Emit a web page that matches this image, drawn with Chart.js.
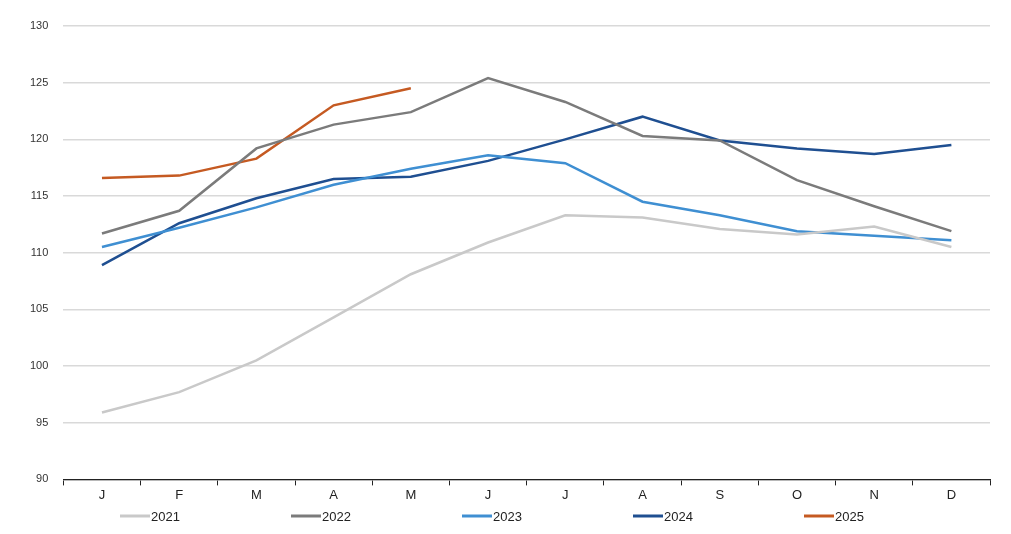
<!DOCTYPE html>
<html><head><meta charset="utf-8">
<script src="https://cdn.jsdelivr.net/npm/chart.js@4"></script>
<style>html,body{margin:0;padding:0;background:#fff}#wrap{width:1011px;height:534px}</style>
</head><body><div id="wrap"><canvas id="c"></canvas></div>
<script>
const months = ["J","F","M","A","M","J","J","A","S","O","N","D"];
const s2021 = [95.9, 97.7, 100.5, 104.3, 108.1, 110.9, 113.3, 113.1, 112.1, 111.6, 112.3, 110.5];
const s2022 = [111.7, 113.7, 119.2, 121.3, 122.4, 125.4, 123.3, 120.3, 119.9, 116.4, 114.1, 111.9];
const s2023 = [110.5, 112.2, 114.0, 116.0, 117.4, 118.6, 117.9, 114.5, 113.3, 111.9, 111.5, 111.1];
const s2024 = [108.9, 112.6, 114.8, 116.5, 116.7, 118.1, 120.0, 122.0, 119.9, 119.2, 118.7, 119.5];
const s2025 = [116.6, 116.8, 118.3, 123.0, 124.5];
const yTicks = [90, 95, 100, 105, 110, 115, 120, 125, 130];

const mk = (label, data, color) => ({label, data, borderColor: color, backgroundColor: color,
  borderWidth: 2.5, pointRadius: 0, tension: 0, fill: false});

const FONT = 'Liberation Sans, Arial';

// Legend drawn with wide spacing (one row), like the reference
const wideLegend = {
  id: 'wideLegend',
  afterDraw(chart) {
    const ctx = chart.ctx;
    const ds = chart.data.datasets;
    const step = 171, lineW = 30, startX = 120, y = chart.height - 18;
    ctx.save();
    ctx.font = '13px ' + FONT;
    ctx.textBaseline = 'middle';
    ctx.textAlign = 'left';
    ds.forEach((d, i) => {
      const x = startX + i * step;
      ctx.strokeStyle = d.borderColor;
      ctx.lineWidth = 3;
      ctx.beginPath(); ctx.moveTo(x, y); ctx.lineTo(x + lineW, y); ctx.stroke();
      ctx.fillStyle = '#222';
      ctx.fillText(d.label, x + lineW + 1, y + 1);
    });
    ctx.restore();
  }
};

new Chart(document.getElementById('c'), {
  type: 'line',
  data: {labels: months, datasets: [
    mk('2021', s2021, '#c9c9c9'),
    mk('2022', s2022, '#7b7b7b'),
    mk('2023', s2023, '#3f8fd2'),
    mk('2024', s2024, '#1f4f91'),
    mk('2025', s2025, '#c55a22')
  ]},
  plugins: [wideLegend],
  options: {
    responsive: true, maintainAspectRatio: false, animation: false,
    layout: {padding: {top: 26, right: 21, left: 15, bottom: 29}},
    plugins: {
      tooltip: {enabled: false},
      legend: {display: false}
    },
    scales: {
      x: {offset: true,
        grid: {offset: true, drawOnChartArea: false, drawTicks: true, tickLength: 6, color: '#222', lineWidth: 1},
        border: {display: true, color: '#222', width: 1.2},
        ticks: {color: '#222', padding: 2, font: {family: FONT, size: 13}}
      },
      y: {min: 90, max: 130,
        afterBuildTicks: (ax) => { ax.ticks = yTicks.map(v => ({value: v})); },
        grid: {color: '#d9d9d9', lineWidth: 1.5, drawTicks: false},
        border: {display: false},
        ticks: {color: '#333', padding: 15, font: {family: FONT, size: 11}}
      }
    }
  }
});
</script></body></html>
